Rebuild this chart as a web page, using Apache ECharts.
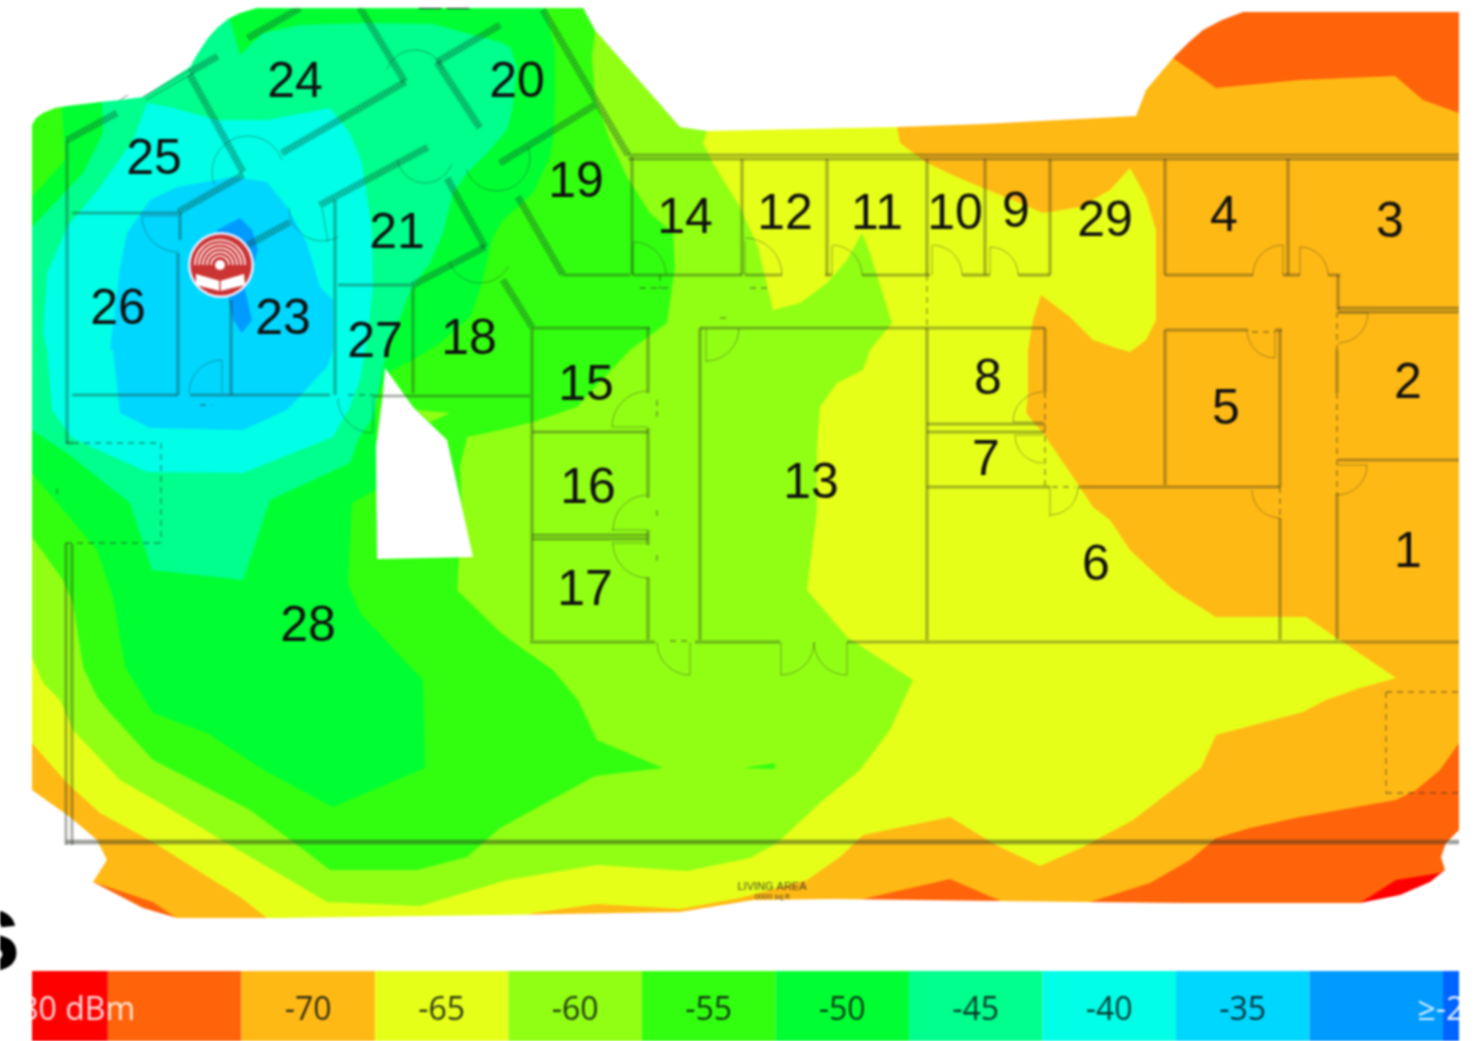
<!DOCTYPE html>
<html><head><meta charset="utf-8">
<script src="https://cdn.jsdelivr.net/npm/echarts@6/dist/echarts.min.js"></script>
<style>html,body{margin:0;padding:0;background:#fff;overflow:hidden}#c{width:1483px;height:1041px;filter:blur(0.9px)}</style>
</head><body><div id="c"></div>
<script>
// ---------- signal contours (x, y on the plan scale) ----------
const footprint=[[20,125],[32,125],[36,118],[43,113],[55,108],[67,106],[100,102],[120,100],[143,97],[190,67],[195,58],[200,50],[208,38],[217,28],[228,19],[240,13],[257,8],[583,8],[595,30],[680,127],[707,131],[897,127],[983,124],[1136,116],[1146,90],[1173,58],[1188,43],[1203,30],[1222,20],[1243,12],[1470,12],[1470,830],[1459,830],[1446,843],[1441,857],[1445,870],[1430,882],[1400,895],[1360,903],[1183,903],[1083,902],[833,899],[753,900],[680,912],[500,915],[280,918],[177,918],[143,908],[93,882],[107,860],[97,840],[70,817],[32,790],[20,782]];
const hole=[[385,368],[413,407],[447,440],[473,557],[377,559],[376,447],[383,393]];
const bandM80=[[0,0],[1483,0],[1483,1041],[0,1041]];
const bandM75=[[0,0],[1483,0],[1483,860],[1445,870],[1440,873],[1396,880],[1360,903],[1350,930],[0,930]];
const bandM70=[[0,0],[1160,0],[1173,58],[1216,88],[1300,80],[1395,76],[1423,100],[1459,113],[1470,115],[1470,740],[1459,743],[1440,770],[1416,790],[1396,800],[1300,817],[1250,828],[1216,838],[1190,860],[1150,883],[1090,902],[1003,902],[950,879],[863,899],[860,930],[180,930],[175,917],[153,902],[93,882],[80,880],[0,870]];
const bandM65=[[0,0],[890,0],[897,127],[900,143],[927,163],[957,177],[983,188],[1013,200],[1043,213],[1080,207],[1110,190],[1130,168],[1146,197],[1156,230],[1156,320],[1146,340],[1130,352],[1116,348],[1093,340],[1070,317],[1041,295],[1033,320],[1028,350],[1028,393],[1026,413],[1043,433],[1073,477],[1093,507],[1110,520],[1130,550],[1173,590],[1216,617],[1306,617],[1340,640],[1396,678],[1360,688],[1326,700],[1303,712],[1216,735],[1201,768],[1133,820],[1083,847],[1040,866],[996,845],[950,817],[863,835],[840,857],[807,880],[740,898],[680,909],[597,904],[533,913],[500,925],[280,928],[240,897],[197,870],[153,842],[100,813],[67,783],[32,743],[0,700]];
const bandM60=[[0,0],[700,0],[707,131],[703,143],[713,163],[740,207],[758,247],[773,310],[800,303],[827,283],[847,260],[862,233],[870,253],[892,323],[870,350],[863,370],[837,383],[820,407],[817,447],[817,510],[807,590],[847,637],[913,680],[890,730],[860,770],[820,803],[777,843],[750,858],[687,871],[597,865],[507,880],[420,906],[327,902],[290,880],[233,847],[167,807],[120,780],[73,730],[60,700],[43,683],[32,657],[0,640]];
const bandM55=[[0,0],[590,0],[595,32],[592,57],[595,97],[610,140],[627,177],[650,213],[673,233],[675,267],[667,323],[630,350],[577,407],[533,422],[500,430],[467,437],[460,467],[462,517],[457,590],[500,632],[520,647],[553,670],[578,700],[597,740],[663,768],[595,776],[500,828],[467,857],[417,870],[330,870],[300,847],[250,810],[153,760],[110,713],[97,697],[83,667],[73,603],[63,580],[32,537],[0,510]];
const bandM55b=[[743,768],[775,763],[775,769]];
const bandM60b=[[417,410],[450,413],[430,422]];
const bandM50=[[62,0],[543,0],[555,50],[555,100],[553,140],[550,157],[533,193],[503,220],[493,237],[480,290],[470,317],[440,343],[413,360],[387,373],[376,400],[376,490],[352,503],[348,583],[360,613],[423,680],[425,768],[333,807],[267,772],[207,733],[153,713],[125,667],[113,597],[97,550],[32,473],[0,450],[0,230],[32,197],[65,160],[62,112]];
const bandM45=[[102,100],[140,60],[200,10],[230,20],[240,55],[263,33],[300,25],[367,23],[433,24],[500,42],[510,47],[517,67],[512,110],[507,130],[487,153],[467,173],[453,193],[443,233],[430,263],[412,287],[390,343],[383,367],[373,417],[358,440],[350,463],[270,500],[243,580],[152,570],[130,503],[67,453],[32,430],[0,410],[0,260],[32,227],[83,173],[103,133]];
const bandM40=[[147,103],[170,107],[217,120],[267,120],[330,108],[350,133],[362,163],[372,230],[373,287],[367,340],[360,380],[350,407],[333,437],[243,473],[147,472],[72,438],[52,410],[47,350],[43,333],[47,273],[67,227],[100,187],[133,140]];
const bandM35=[[150,200],[177,187],[233,177],[267,182],[287,207],[307,243],[320,287],[333,300],[333,350],[327,367],[287,410],[243,430],[150,428],[120,413],[113,350],[110,350],[120,267],[127,233]];
const bandM30=[[217,230],[240,218],[252,230],[258,250],[245,290],[252,320],[242,333],[233,320],[228,295],[221,265]];

// ---------- floor plan ----------
const hatchedWalls=[[67,140,117,113],[190,75,243,172],[190,72,218,56],[248,38,300,8],[360,8,405,82],[405,82,282,153],[243,175,178,212],[248,245,290,222],[320,205,428,147],[413,285,485,247],[485,247,447,178],[437,62,500,25],[437,62,480,128],[518,197,563,275],[543,10,628,155],[500,163,595,105],[503,280,532,327]];
const faintWalls=[[143,97,190,70],[146,100,193,73],[120,100,128,95]];
const walls=[[67,140,67,443],[66,443,73,443],[66,543,66,845],[72,544,72,845],[66,843,1459,843],[66,841,1459,841],[72,213,178,213],[178,253,178,395],[180,212,180,240],[231,300,231,395],[335,200,335,395],[338,285,413,285],[413,287,413,393],[72,395,178,395],[190,395,330,395],[373,396,530,396],[532,328,650,328],[532,328,532,640],[648,328,648,393],[648,428,648,498],[648,530,648,545],[648,577,648,640],[532,432,648,432],[532,535,648,535],[532,539,648,539],[530,642,655,642],[700,328,700,640],[695,642,780,642],[847,642,1459,642],[628,155,1459,155],[628,159,1459,159],[632,157,632,275],[742,159,742,275],[827,159,827,275],[927,159,927,275],[985,159,985,275],[1050,159,1050,275],[1165,159,1165,275],[1288,159,1288,275],[563,275,630,275],[633,275,742,275],[745,275,782,275],[825,275,832,275],[862,275,930,275],[962,275,990,275],[1018,275,1050,275],[1165,275,1253,275],[1283,275,1300,275],[1328,275,1340,275],[1338,275,1338,310],[1338,308,1459,308],[1338,312,1459,312],[1337,350,1337,393],[1337,493,1337,640],[1338,460,1459,460],[1165,330,1248,330],[1275,330,1282,330],[1165,330,1165,485],[1280,330,1280,487],[1078,487,1280,487],[1280,518,1280,640],[700,328,1045,328],[1045,328,1045,392],[927,328,927,640],[927,424,1045,424],[927,432,1045,432],[927,487,1050,487]];
const thinLines=[[222,360,222,393],[648,427,612,427],[648,530,612,530],[648,543,612,543],[706,328,706,362],[690,642,690,675],[781,642,781,675],[847,642,847,675],[373,398,373,432],[322,208,328,242],[178,216,142,216],[1043,422,1013,422],[1043,435,1015,435],[1050,487,1050,517],[1275,330,1275,358],[1337,465,1367,465],[1338,313,1368,313],[633,242,633,275],[745,241,745,275],[832,246,832,275],[932,246,932,275],[990,247,990,275],[1283,245,1283,275],[1300,247,1300,275]];
const dashedLines=[[73,443,161,443],[161,443,161,543],[66,543,161,543],[1386,692,1459,692],[1386,692,1386,793],[1386,793,1459,793],[927,275,927,328],[1045,392,1045,487],[1337,312,1337,350],[1337,393,1337,493],[660,275,660,289],[640,288,670,288],[750,288,770,288],[720,318,730,318],[657,400,657,420],[657,510,657,520],[657,555,657,565],[670,641,690,641],[1052,487,1075,487],[1252,332,1275,332],[1280,487,1280,518],[200,405,212,405],[348,395,373,395],[57,488,57,498]];
const doors=[[633,275,33,270,360],[745,275,37,270,360],[832,275,30,270,360],[932,275,30,270,360],[990,275,28,270,360],[1283,275,30,180,270],[1300,275,28,270,360],[1338,313,30,0,90],[1275,330,28,90,180],[1337,465,30,0,90],[1280,490,28,90,180],[1043,422,30,180,270],[1043,435,28,90,180],[1050,487,28,0,90],[648,427,36,180,270],[648,530,35,180,270],[648,543,35,90,180],[706,328,33,0,90],[690,642,33,90,180],[781,642,33,0,90],[847,642,33,90,180],[222,393,33,180,270],[178,216,36,90,180],[248,172,36,160,340],[322,208,33,60,180],[415,80,30,200,340],[425,155,28,20,170],[480,250,33,30,160],[497,158,33,340,520],[373,398,35,90,180]];

// ---------- texts ----------
const roomNames=['22','24','20','25','19','14','12','11','10','9','29','4','3','21','26','23','27','18','15','8','2','5','7','13','16','1','6','17','28'];
const roomX=[444,295,517,154,576,685,785,877,955,1016,1105,1224,1390,397,118,283,375,469,586,988,1408,1226,986,811,588,1408,1096,585,308];
const roomY=[-5,83,83,160,183,219,215,215,215,213,222,217,223,234,310,320,343,340,386,380,384,410,461,484,489,553,566,591,627];
const accessPoint=[221,265];
const legendValues=[-80,-75,-70,-65,-60,-55,-50,-45,-40,-35,-30,-25];
const legendColors=['#ff0000','#ff640a','#ffb914','#e6ff19','#91ff14','#32ff0f','#00ff32','#00ff8c','#00ffe6','#00d7ff','#009bff','#0064ff'];
const legendTicks=[-70,-65,-60,-55,-50,-45,-40,-35];
const legendLowText='-80 dBm', legendHighText='≥-25 dBm';

const bandLayers=[[bandM80,'#ff0000'],[bandM75,'#ff640a'],[bandM70,'#ffb914'],[bandM65,'#e6ff19'],[bandM60,'#91ff14'],[bandM55,'#32ff0f'],[bandM55b,'#32ff0f'],[bandM60b,'#91ff14'],[bandM50,'#00ff32'],[bandM45,'#00ff8c'],[bandM40,'#00ffe6'],[bandM35,'#00d7ff'],[bandM30,'#009bff']];
const outside=[[-10,-10],[1500,-10],[1500,1050],[-10,1050],[-10,125]].concat(footprint.slice().reverse(),[[20,125],[-10,125]]);
const poly=(api,pts,fill)=>({type:'polygon',shape:{points:pts.map(p=>api.coord(p))},style:{fill:fill}});
const seg=(api,s,style)=>{const a=api.coord([s[0],s[1]]),b=api.coord([s[2],s[3]]);return {type:'line',shape:{x1:a[0],y1:a[1],x2:b[0],y2:b[1]},style:Object.assign({fill:null},style)}};
const planSeries=(z,count,renderItem)=>({type:'custom',xAxisIndex:0,yAxisIndex:0,clip:true,silent:true,animation:false,z:z,data:Array.from({length:count},(_,i)=>[i]),renderItem:renderItem});

const option={animation:false,tooltip:{show:false},
 graphic:[{type:'text',x:21,y:939,z:50,style:{text:'s',font:'bold 112px "Liberation Sans"',fill:'#000',textAlign:'right',textVerticalAlign:'middle'}}],
 grid:[{left:32,right:24,top:8,bottom:0},{left:32,right:24,top:971,bottom:0}],
 xAxis:[{type:'value',min:32,max:1459,show:false,gridIndex:0},{type:'value',min:-80.34,max:-26.9,show:false,gridIndex:1}],
 yAxis:[{type:'value',min:8,max:1041,inverse:true,show:false,gridIndex:0},{type:'value',min:0,max:1,show:false,gridIndex:1}],
 series:[
  planSeries(1,bandLayers.length,(p,api)=>{const l=bandLayers[api.value(0)];return poly(api,l[0],l[1])}),
  planSeries(2,2,(p,api)=>api.value(0)===0?poly(api,outside,'#fff'):poly(api,hole,'#fff')),
  planSeries(3,hatchedWalls.length,(p,api)=>{const s=hatchedWalls[api.value(0)];return {type:'group',children:[seg(api,s,{stroke:'rgba(20,70,50,0.18)',lineWidth:7}),seg(api,s,{stroke:'rgba(20,70,50,0.35)',lineWidth:7,lineDash:[2,1.6]})]}}),
  planSeries(3,faintWalls.length,(p,api)=>seg(api,faintWalls[api.value(0)],{stroke:'rgba(60,60,60,0.45)',lineWidth:1.2})),
  planSeries(3,walls.length,(p,api)=>seg(api,walls[api.value(0)],{stroke:'rgba(40,45,35,0.36)',lineWidth:3.2})),
  planSeries(3,thinLines.length,(p,api)=>seg(api,thinLines[api.value(0)],{stroke:'rgba(40,45,35,0.4)',lineWidth:1})),
  planSeries(3,dashedLines.length,(p,api)=>seg(api,dashedLines[api.value(0)],{stroke:'rgba(40,45,35,0.5)',lineWidth:1.3,lineDash:[6,5]})),
  planSeries(3,doors.length,(p,api)=>{const d=doors[api.value(0)],c=api.coord([d[0],d[1]]);return {type:'arc',shape:{cx:c[0],cy:c[1],r:d[2],startAngle:d[3]*Math.PI/180,endAngle:d[4]*Math.PI/180,clockwise:true},style:{fill:null,stroke:'rgba(40,45,35,0.4)',lineWidth:1}}}),
  planSeries(4,roomNames.length,(p,api)=>{const i=api.value(0),c=api.coord([roomX[i],roomY[i]]);return {type:'text',x:c[0],y:c[1],style:{text:roomNames[i],font:'50px "Liberation Sans"',fill:'#111',textAlign:'center',textVerticalAlign:'middle'}}}),
  planSeries(4,2,(p,api)=>{const i=api.value(0),c=api.coord([772,i?897:887]);return {type:'text',x:c[0],y:c[1],style:{text:i?'0000 sq ft':'LIVING AREA',font:i?'8px "Liberation Sans"':'11px "Liberation Sans"',fill:'rgba(30,30,30,0.8)',textAlign:'center',textVerticalAlign:'middle'}}}),
  planSeries(5,1,(p,api)=>{
    const c=api.coord(accessPoint),cx=c[0]-1,cy=c[1];
    const ch=[{type:'circle',shape:{cx:c[0],cy:cy,r:33},style:{fill:'#eef'}},{type:'circle',shape:{cx:c[0],cy:cy,r:30.5},style:{fill:'#cc3333'}}];
    [9,13,17,21,25].forEach(r=>ch.push({type:'arc',shape:{cx:cx,cy:cy,r:r,startAngle:Math.PI,endAngle:2*Math.PI,clockwise:true},style:{fill:null,stroke:'#fff',lineWidth:1.6}}));
    ch.push({type:'circle',shape:{cx:cx,cy:cy,r:5},style:{fill:'#fff'}});
    ch.push({type:'polygon',shape:{points:[[cx-24,cy+9],[cx,cy+16],[cx+24,cy+9],[cx+25,cy+20],[cx,cy+26],[cx-24,cy+20]]},style:{fill:'#fff'}});
    ch.push({type:'line',shape:{x1:cx,y1:cy+16,x2:cx,y2:cy+26},style:{stroke:'#cc3333',lineWidth:1.5}});
    return {type:'group',children:ch};
  }),
  {type:'custom',xAxisIndex:1,yAxisIndex:1,clip:true,silent:true,animation:false,z:10,data:legendValues.map(v=>[v]),renderItem:(p,api)=>{
    const v=api.value(0),a=api.coord([v-2.5,1]),b=api.coord([v+2.5,0]);
    return {type:'rect',shape:{x:a[0],y:a[1],width:b[0]-a[0],height:b[1]-a[1]},style:{fill:legendColors[p.dataIndex]}};
  }},
  {type:'custom',xAxisIndex:1,yAxisIndex:1,clip:true,silent:true,animation:false,z:11,data:legendTicks.map(v=>[v]),renderItem:(p,api)=>{
    const c=api.coord([api.value(0),0.43]);
    return {type:'text',x:c[0],y:c[1],style:{text:String(api.value(0)),font:'32px "Open Sans"',fill:'rgba(10,20,20,0.85)',textAlign:'center',textVerticalAlign:'middle'}};
  }},
  {type:'custom',xAxisIndex:1,yAxisIndex:1,clip:true,silent:true,animation:false,z:11,data:[[-76.48],[-28.46]],renderItem:(p,api)=>{
    const c=api.coord([api.value(0),0.43]),i=p.dataIndex;
    return {type:'text',x:c[0],y:c[1],style:{text:i?legendHighText:legendLowText,font:'32px "Open Sans"',fill:'rgba(255,255,255,0.85)',textAlign:i?'left':'right',textVerticalAlign:'middle'}};
  }}
 ]};
echarts.init(document.getElementById('c'),null,{renderer:'canvas'}).setOption(option);
</script></body></html>
